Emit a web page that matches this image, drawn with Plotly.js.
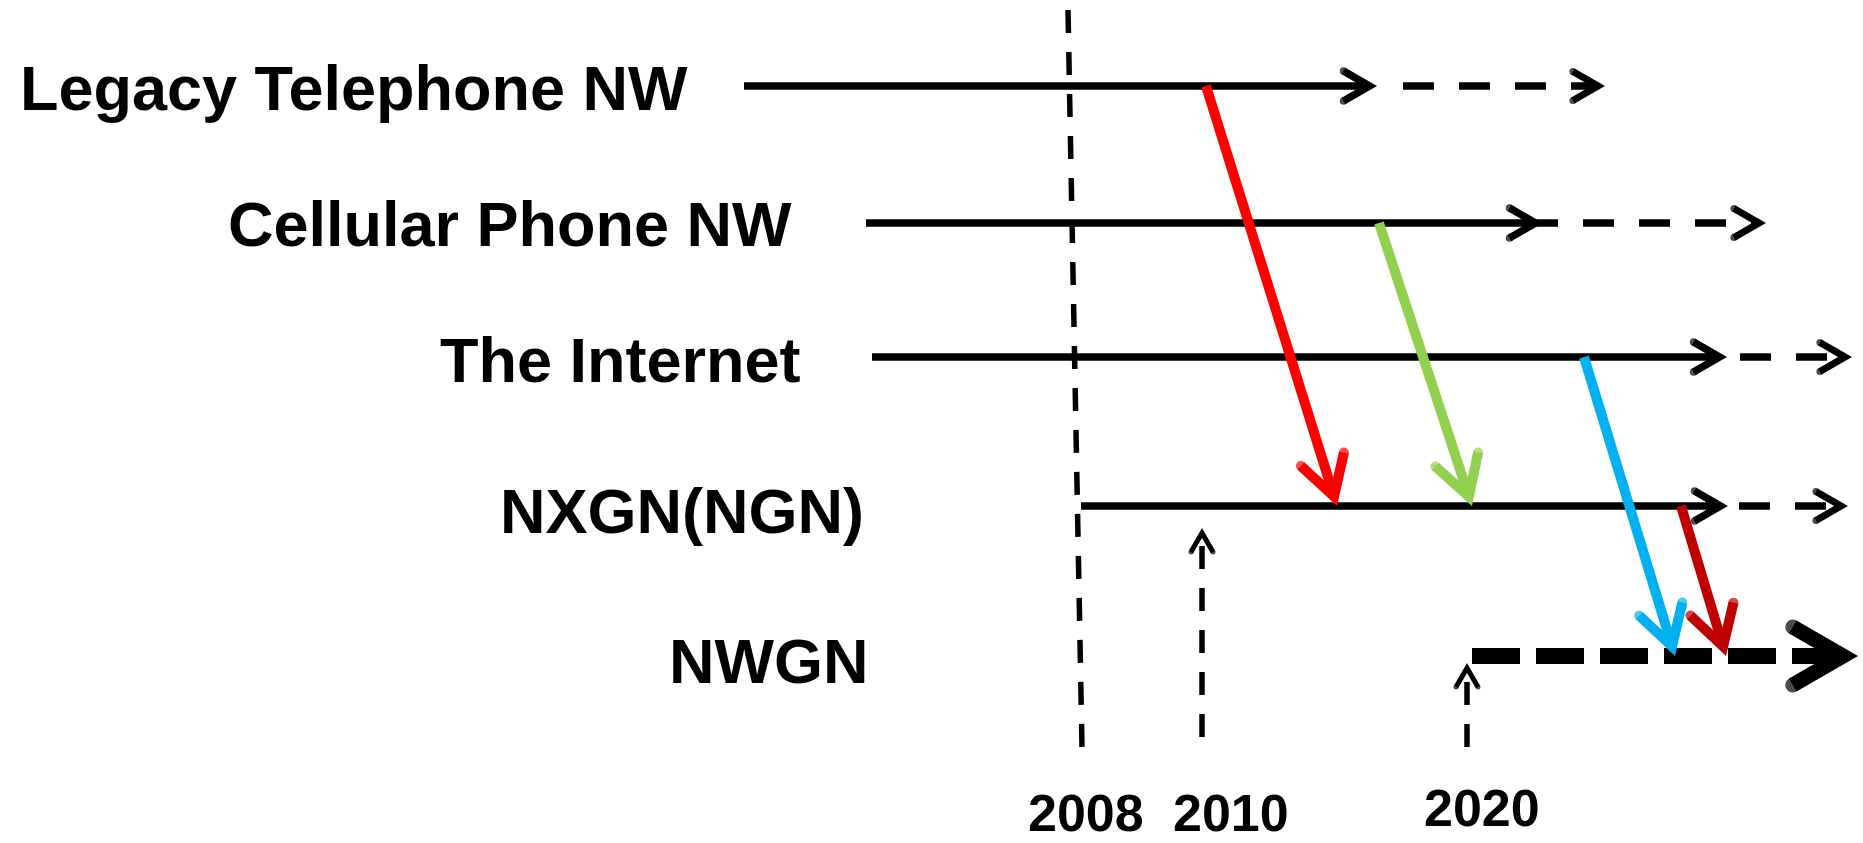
<!DOCTYPE html>
<html><head><meta charset="utf-8">
<script src="https://cdn.plot.ly/plotly-3.0.1.min.js"></script>
<style>
html,body{margin:0;padding:0;background:#fff;}
#chart{width:1863px;height:843px;}
#chart path.js-line{stroke-linejoin:miter !important;stroke-miterlimit:10 !important;}
</style>
</head><body><div id="chart"></div>
<script>
// ---- Data (diagram coordinates: x = timeline position, y = row position) ----
const networks      = ['Legacy Telephone NW', 'Cellular Phone NW', 'The Internet', 'NXGN(NGN)', 'NWGN'];
const rowY          = [86, 223, 357, 506, 656];
const labelCenterX  = [354, 510, 620, 682, 768];
const labelCenterY  = [88, 224, 360, 511, 661];
const currentStart  = [744, 866, 872, 1081, null];
const currentEnd    = [1377, 1558, 1727, 1728, null];
const currentTip    = [1377, 1543, 1727, 1728, null];
const futureStart   = [1403, 1583, 1740, 1739, 1472];
const futureTip     = [1605, 1766, 1852, 1848, 1858];

const migFromRow    = [0, 1, 2, 3];
const migToRow      = [3, 3, 4, 4];
const migStartX     = [1206, 1379, 1584, 1681];
const migEndX       = [1337, 1472, 1675, 1726];

const years         = ['2008', '2010', '2020'];
const yearTopX      = [1068, 1202, 1467];
const yearBottomX   = [1082, 1202, 1467];
const yearTopY      = [10, 528, 663];
const yearBottomY   = [747, 737, 747];
const yearHasArrow  = [false, true, true];
const yearLabelX    = [1086, 1231, 1482];
const yearLabelY    = [813, 813, 808];

// ---- Styles ----
const migColors = ['#FF0000', '#92D050', '#00B0F0', '#C00000'];
const FONT = 'Liberation Sans, Arial, Helvetica, sans-serif';

const traces = [];
function addLine(xs, ys, color, width, dash) {
  traces.push({type: 'scatter', mode: 'lines', x: xs, y: ys,
    line: {color: color, width: width, dash: dash || 'solid'},
    hoverinfo: 'skip', showlegend: false, cliponaxis: false});
}
function addHead(tipX, tipY, fromX, fromY, L, w, color) {
  const dx = tipX - fromX, dy = tipY - fromY, n = Math.hypot(dx, dy);
  const ux = dx / n, uy = dy / n;
  const a = Math.PI / 6, c = Math.cos(a), s = Math.sin(a);
  const back = (w / 2) / s;
  const vx = tipX - ux * back, vy = tipY - uy * back;
  const bx = -ux, by = -uy;
  const b1x = vx + L * (bx * c - by * s), b1y = vy + L * (bx * s + by * c);
  const b2x = vx + L * (bx * c + by * s), b2y = vy + L * (-bx * s + by * c);
  traces.push({type: 'scatter', mode: 'lines+markers', x: [b1x, vx, b2x], y: [b1y, vy, b2y],
    line: {color: color, width: w}, marker: {color: color, size: [w, 0, w], line: {width: 0}},
    hoverinfo: 'skip', showlegend: false, cliponaxis: false});
  return [vx, vy];
}

// Year reference lines
for (let i = 0; i < years.length; i++) {
  if (yearHasArrow[i]) {
    const v = addHead(yearTopX[i], yearTopY[i], yearBottomX[i], yearBottomY[i], 22, 5, '#000');
    addLine([yearBottomX[i], v[0]], [yearBottomY[i], v[1]], '#000', 5.5, '23px,19px');
  } else {
    addLine([yearTopX[i], yearBottomX[i]], [yearTopY[i], yearBottomY[i]], '#000', 5.5, '23px,19px');
  }
}

// Network timelines
for (let i = 0; i < networks.length; i++) {
  const y = rowY[i];
  if (currentStart[i] !== null) {
    const v = addHead(currentTip[i], y, currentStart[i], y, 30, 7.5, '#000');
    const end = currentEnd[i] > currentTip[i] ? currentEnd[i] : v[0];
    addLine([currentStart[i], end], [y, y], '#000', 7.5);
  }
  const big = (i === networks.length - 1);
  const L = big ? 58 : 29, w = big ? 15 : 7;
  const v2 = addHead(futureTip[i], y, futureStart[i], y, L, w, '#000');
  addLine([futureStart[i], v2[0]], [y, y], '#000', big ? 16 : 7.5, big ? '48px,16px' : '31px,25px');
}

// Migration arrows
for (let k = 0; k < migFromRow.length; k++) {
  const sx = migStartX[k], sy = rowY[migFromRow[k]];
  const tx = migEndX[k], ty = rowY[migToRow[k]];
  const v = addHead(tx, ty, sx, sy, 45, 10, migColors[k]);
  addLine([sx, v[0]], [sy, v[1]], migColors[k], 10);
}

const annotations = [];
for (let i = 0; i < networks.length; i++) {
  annotations.push({x: labelCenterX[i], y: labelCenterY[i], xref: 'x', yref: 'y', text: networks[i],
    showarrow: false, xanchor: 'center', yanchor: 'middle',
    font: {family: FONT, size: 63, color: '#000', weight: 700}});
}
for (let i = 0; i < years.length; i++) {
  annotations.push({x: yearLabelX[i], y: yearLabelY[i], xref: 'x', yref: 'y', text: years[i],
    showarrow: false, xanchor: 'center', yanchor: 'middle',
    font: {family: FONT, size: 52, color: '#000', weight: 700}});
}

const layout = {
  width: 1863, height: 843,
  margin: {l: 0, r: 0, t: 0, b: 0, pad: 0},
  paper_bgcolor: '#fff', plot_bgcolor: '#fff',
  showlegend: false,
  xaxis: {range: [0, 1863], visible: false, fixedrange: true},
  yaxis: {range: [843, 0], visible: false, fixedrange: true},
  annotations: annotations
};
Plotly.newPlot('chart', traces, layout, {displayModeBar: false, staticPlot: true});
</script>
</body></html>
